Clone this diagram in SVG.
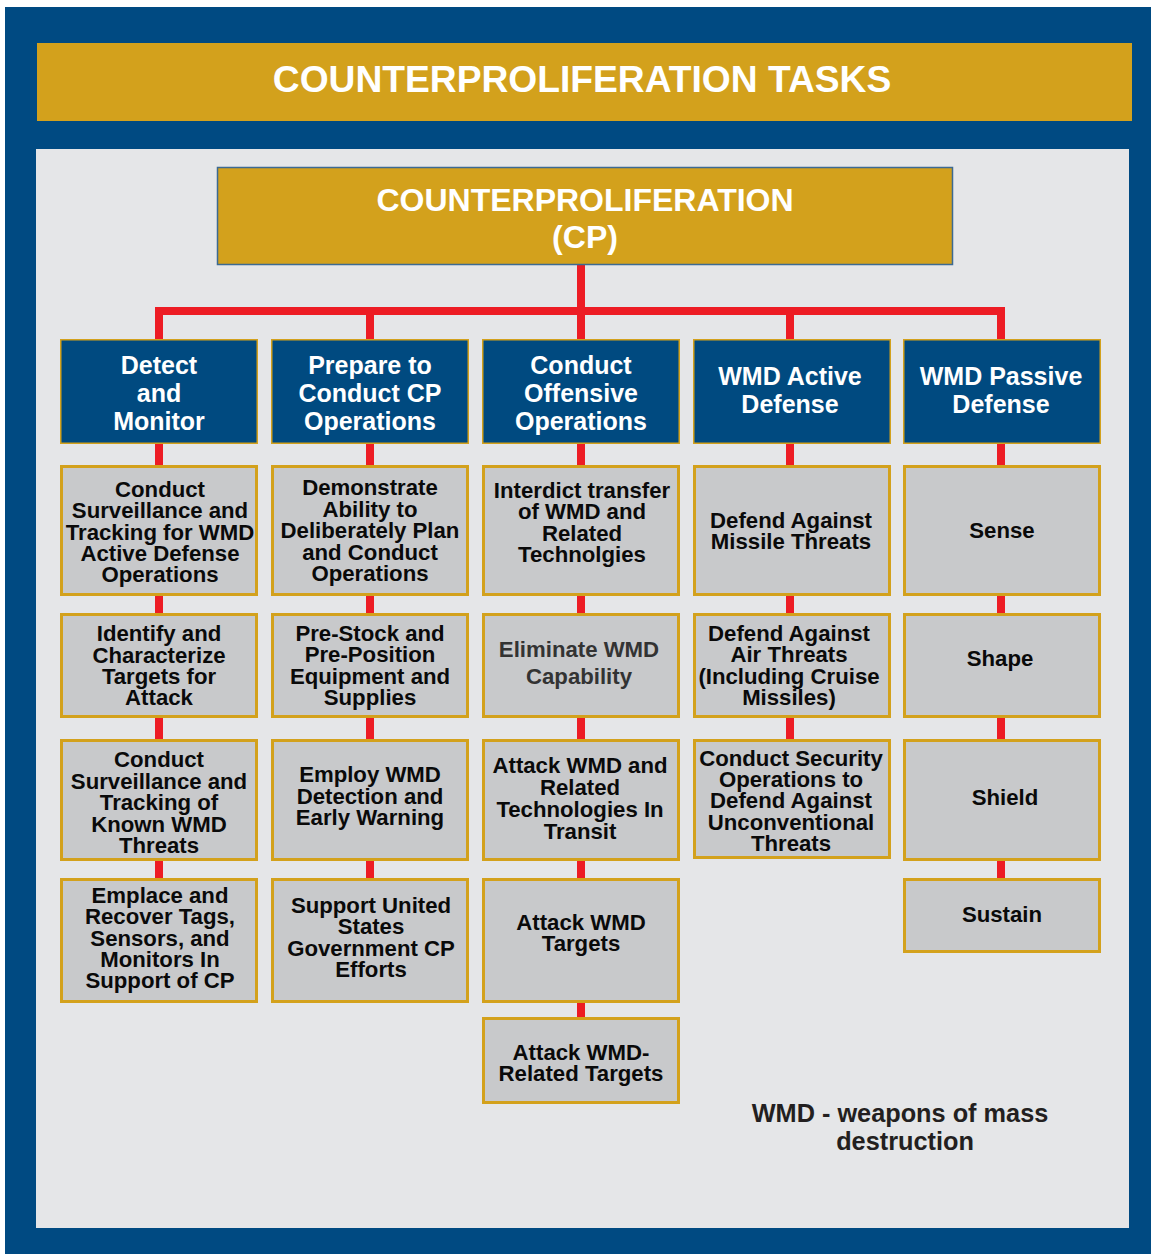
<svg xmlns="http://www.w3.org/2000/svg" width="1151" height="1254" viewBox="0 0 1151 1254">
<style>
.hdr{fill:#004a80;stroke:#d3a11c;stroke-width:1.5}
.box{fill:#c8c9cb;stroke:#d3a11c;stroke-width:3}
.wt{font-family:"Liberation Sans",Arial,sans-serif;font-weight:bold;fill:#ffffff;text-anchor:middle}
.ht{font-family:"Liberation Sans",Arial,sans-serif;font-weight:bold;fill:#ffffff;text-anchor:middle;font-size:25px}
.bt{font-family:"Liberation Sans",Arial,sans-serif;font-weight:bold;fill:#0a0a0a;text-anchor:middle;font-size:22.2px}
.conn{fill:none;stroke:#ed1c24;stroke-width:8}
</style>
<rect x="0" y="0" width="1151" height="1254" fill="#ffffff"/>
<rect x="5" y="7" width="1146" height="1247" fill="#004a82"/>
<rect x="37" y="43" width="1095" height="78" fill="#d3a11c"/>
<text class="wt" x="582" y="92" font-size="37.2">COUNTERPROLIFERATION TASKS</text>
<rect x="36" y="149" width="1093" height="1079" fill="#e5e6e8"/>

<g id="connectors">
<polyline class="conn" points="159,339 159,311 1001,311 1001,339"/>
<line class="conn" x1="581" y1="265" x2="581" y2="311"/>
<line class="conn" x1="370" y1="311" x2="370" y2="339"/>
<line class="conn" x1="790" y1="311" x2="790" y2="339"/>
<line class="conn" x1="159" y1="444" x2="159" y2="878"/>
<line class="conn" x1="370" y1="444" x2="370" y2="878"/>
<line class="conn" x1="581" y1="265" x2="581" y2="1017"/>
<line class="conn" x1="790" y1="444" x2="790" y2="739"/>
<line class="conn" x1="1001" y1="444" x2="1001" y2="878"/>
</g>

<g id="cp">
<rect x="217.5" y="167.5" width="735" height="97" fill="#d3a11c" stroke="#3d6a91" stroke-width="1.5"/>
<text class="wt" x="585" y="211" font-size="32"><tspan x="585" y="211">COUNTERPROLIFERATION</tspan><tspan x="585" y="248">(CP)</tspan></text>
</g>

<g id="h1"><rect class="hdr" x="60.75" y="339.75" width="196.5" height="103.5"/>
<text class="ht"><tspan x="159" y="374">Detect</tspan><tspan x="159" y="402">and</tspan><tspan x="159" y="430">Monitor</tspan></text></g>
<g id="h2"><rect class="hdr" x="271.75" y="339.75" width="196.5" height="103.5"/>
<text class="ht"><tspan x="370" y="374">Prepare to</tspan><tspan x="370" y="402">Conduct CP</tspan><tspan x="370" y="430">Operations</tspan></text></g>
<g id="h3"><rect class="hdr" x="482.75" y="339.75" width="196.5" height="103.5"/>
<text class="ht"><tspan x="581" y="374">Conduct</tspan><tspan x="581" y="402">Offensive</tspan><tspan x="581" y="430">Operations</tspan></text></g>
<g id="h4"><rect class="hdr" x="693.75" y="339.75" width="196.5" height="103.5"/>
<text class="ht"><tspan x="790" y="385">WMD Active</tspan><tspan x="790" y="413">Defense</tspan></text></g>
<g id="h5"><rect class="hdr" x="903.75" y="339.75" width="196.5" height="103.5"/>
<text class="ht"><tspan x="1001" y="385">WMD Passive</tspan><tspan x="1001" y="413">Defense</tspan></text></g>

<!-- Column 1 -->
<g id="c1r1"><rect class="box" x="61.5" y="466.5" width="195" height="128"/>
<text class="bt"><tspan x="160" y="497">Conduct</tspan><tspan x="160" y="518">Surveillance and</tspan><tspan x="160" y="539.5">Tracking for WMD</tspan><tspan x="160" y="560.5">Active Defense</tspan><tspan x="160" y="581.5">Operations</tspan></text></g>
<g id="c1r2"><rect class="box" x="61.5" y="614.5" width="195" height="102"/>
<text class="bt"><tspan x="159" y="641">Identify and</tspan><tspan x="159" y="662.5">Characterize</tspan><tspan x="159" y="684">Targets for</tspan><tspan x="159" y="705">Attack</tspan></text></g>
<g id="c1r3"><rect class="box" x="61.5" y="740.5" width="195" height="119"/>
<text class="bt"><tspan x="159" y="767">Conduct</tspan><tspan x="159" y="788.5">Surveillance and</tspan><tspan x="159" y="810">Tracking of</tspan><tspan x="159" y="831.5">Known WMD</tspan><tspan x="159" y="853">Threats</tspan></text></g>
<g id="c1r4"><rect class="box" x="61.5" y="879.5" width="195" height="122"/>
<text class="bt"><tspan x="160" y="902.5">Emplace and</tspan><tspan x="160" y="924">Recover Tags,</tspan><tspan x="160" y="945.5">Sensors, and</tspan><tspan x="160" y="967">Monitors In</tspan><tspan x="160" y="988">Support of CP</tspan></text></g>

<!-- Column 2 -->
<g id="c2r1"><rect class="box" x="272.5" y="466.5" width="195" height="128"/>
<text class="bt"><tspan x="370" y="495">Demonstrate</tspan><tspan x="370" y="516.5">Ability to</tspan><tspan x="370" y="538">Deliberately Plan</tspan><tspan x="370" y="559.5">and Conduct</tspan><tspan x="370" y="580.5">Operations</tspan></text></g>
<g id="c2r2"><rect class="box" x="272.5" y="614.5" width="195" height="102"/>
<text class="bt"><tspan x="370" y="640.5">Pre-Stock and</tspan><tspan x="370" y="662">Pre-Position</tspan><tspan x="370" y="684">Equipment and</tspan><tspan x="370" y="705">Supplies</tspan></text></g>
<g id="c2r3"><rect class="box" x="272.5" y="740.5" width="195" height="119"/>
<text class="bt"><tspan x="370" y="782">Employ WMD</tspan><tspan x="370" y="803.5">Detection and</tspan><tspan x="370" y="825">Early Warning</tspan></text></g>
<g id="c2r4"><rect class="box" x="272.5" y="879.5" width="195" height="122"/>
<text class="bt"><tspan x="371" y="913">Support United</tspan><tspan x="371" y="934">States</tspan><tspan x="371" y="955.5">Government CP</tspan><tspan x="371" y="977">Efforts</tspan></text></g>

<!-- Column 3 -->
<g id="c3r1"><rect class="box" x="483.5" y="466.5" width="195" height="128"/>
<text class="bt"><tspan x="582" y="497.5">Interdict transfer</tspan><tspan x="582" y="518.5">of WMD and</tspan><tspan x="582" y="540.5">Related</tspan><tspan x="582" y="562">Technolgies</tspan></text></g>
<g id="c3r2"><rect class="box" x="483.5" y="614.5" width="195" height="102"/>
<text class="bt" style="fill:#333333"><tspan x="579" y="657">Eliminate WMD</tspan><tspan x="579" y="683.5">Capability</tspan></text></g>
<g id="c3r3"><rect class="box" x="483.5" y="740.5" width="195" height="119"/>
<text class="bt"><tspan x="580" y="773">Attack WMD and</tspan><tspan x="580" y="795">Related</tspan><tspan x="580" y="817">Technologies In</tspan><tspan x="580" y="838.5">Transit</tspan></text></g>
<g id="c3r4"><rect class="box" x="483.5" y="879.5" width="195" height="122"/>
<text class="bt"><tspan x="581" y="929.5">Attack WMD</tspan><tspan x="581" y="951">Targets</tspan></text></g>
<g id="c3r5"><rect class="box" x="483.5" y="1018.5" width="195" height="84"/>
<text class="bt"><tspan x="581" y="1059.5">Attack WMD-</tspan><tspan x="581" y="1080.5">Related Targets</tspan></text></g>

<!-- Column 4 -->
<g id="c4r1"><rect class="box" x="694.5" y="466.5" width="195" height="128"/>
<text class="bt"><tspan x="791" y="527.5">Defend Against</tspan><tspan x="791" y="548.5">Missile Threats</tspan></text></g>
<g id="c4r2"><rect class="box" x="694.5" y="614.5" width="195" height="102"/>
<text class="bt"><tspan x="789" y="640.5">Defend Against</tspan><tspan x="789" y="662">Air Threats</tspan><tspan x="789" y="683.5">(Including Cruise</tspan><tspan x="789" y="705">Missiles)</tspan></text></g>
<g id="c4r3"><rect class="box" x="694.5" y="740.5" width="195" height="117"/>
<text class="bt"><tspan x="791" y="765.5">Conduct Security</tspan><tspan x="791" y="786.5">Operations to</tspan><tspan x="791" y="808">Defend Against</tspan><tspan x="791" y="829.5">Unconventional</tspan><tspan x="791" y="851">Threats</tspan></text></g>

<!-- Column 5 -->
<g id="c5r1"><rect class="box" x="904.5" y="466.5" width="195" height="128"/>
<text class="bt" x="1002" y="538">Sense</text></g>
<g id="c5r2"><rect class="box" x="904.5" y="614.5" width="195" height="102"/>
<text class="bt" x="1000" y="666">Shape</text></g>
<g id="c5r3"><rect class="box" x="904.5" y="740.5" width="195" height="119"/>
<text class="bt" x="1005" y="805">Shield</text></g>
<g id="c5r4"><rect class="box" x="904.5" y="879.5" width="195" height="72"/>
<text class="bt" x="1002" y="922">Sustain</text></g>

<g id="legend">
<text font-family="Liberation Sans, Arial, sans-serif" font-weight="bold" font-size="25.3" fill="#231f20" text-anchor="middle"><tspan x="900" y="1121.5">WMD - weapons of mass</tspan><tspan x="905" y="1150">destruction</tspan></text>
</g>
</svg>
